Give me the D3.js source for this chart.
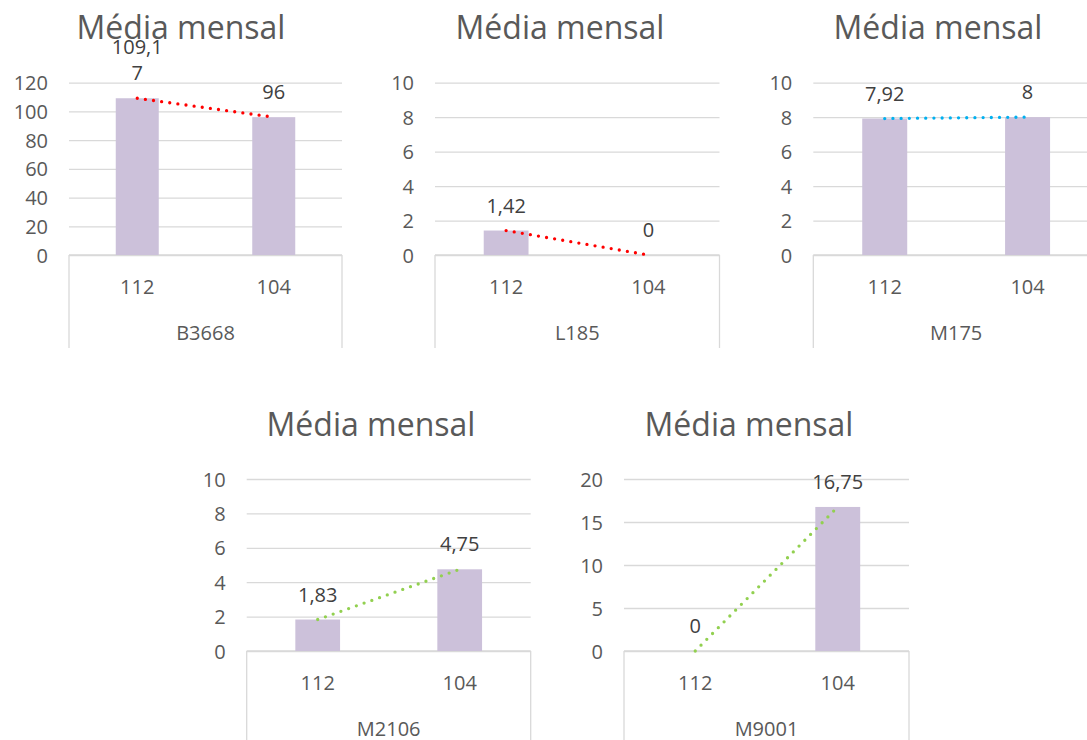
<!DOCTYPE html>
<html>
<head>
<meta charset="utf-8">
<script src="https://cdn.jsdelivr.net/npm/d3@7"></script>
<style>
  html, body { margin: 0; padding: 0; background: #ffffff; }
  svg { display: block; font-family: "Segoe UI", "Open Sans", "Noto Sans", sans-serif; }
</style>
</head>
<body>
<svg id="chart" width="1087" height="740"></svg>
<script>
// Monthly average per item, for the two centres (112 and 104)
const categories = ["112", "104"];
const items = ["B3668", "L185", "M175", "M2106", "M9001"];
const valuesB3668 = [109.17, 96];
const valuesL185 = [1.42, 0];
const valuesM175 = [7.92, 8];
const valuesM2106 = [1.83, 4.75];
const valuesM9001 = [0, 16.75];
const axisMax = [120, 10, 10, 10, 20];
const axisStep = [20, 2, 2, 2, 5];
const chartTitle = "Média mensal";

const seriesByItem = [valuesB3668, valuesL185, valuesM175, valuesM2106, valuesM9001];
const trendColors = ["#FF0000", "#FF0000", "#00B0F0", "#92D050", "#92D050"];

// Plot frame of each small chart (left, right, top gridline, baseline) and title centre
const frames = [
  { x0: 69,    x1: 342,  top: 82.7, base: 255, titleX: 181, titleY: 39 },
  { x0: 435,   x1: 719.5, top: 82.7, base: 255, titleX: 560, titleY: 39 },
  { x0: 813.3, x1: 1099, top: 82.7, base: 255, titleX: 938, titleY: 39 },
  { x0: 246.7, x1: 530.7, top: 479, base: 651, titleX: 371, titleY: 436 },
  { x0: 624,   x1: 909,  top: 479, base: 651, titleX: 749, titleY: 436 }
];

const ptBR = d3.formatLocale({ decimal: ",", thousands: ".", grouping: [3], currency: ["R$", ""] });
const fmt = v => ptBR.format(",")(+v.toFixed(2));

const svg = d3.select("#chart");
const gridColor = "#D9D9D9";
const textColor = "#595959";
const labelColor = "#404040";
const barColor = "#CCC1DA";

function linearTrend(vals) {
  const n = vals.length;
  const xs = d3.range(1, n + 1);
  const mx = d3.mean(xs), my = d3.mean(vals);
  const sxy = d3.sum(xs, (x, i) => (x - mx) * (vals[i] - my));
  const sxx = d3.sum(xs, x => (x - mx) * (x - mx));
  const slope = sxy / sxx;
  return xs.map(x => my + slope * (x - mx));
}

items.forEach((item, k) => {
  const f = frames[k];
  const vals = seriesByItem[k];
  const g = svg.append("g");

  const x = d3.scaleBand().domain(categories).range([f.x0, f.x1])
    .paddingInner(0.685).paddingOuter(0.3425);
  const y = d3.scaleLinear().domain([0, axisMax[k]]).range([f.base, f.top]);
  const ticks = d3.range(0, axisMax[k] + axisStep[k] / 2, axisStep[k]);

  // gridlines and value axis labels
  const yAxis = d3.axisLeft(y).tickValues(ticks).tickSize(-(f.x1 - f.x0)).tickPadding(0).tickFormat(d3.format("d"));
  const ya = g.append("g").attr("transform", `translate(${f.x0},0)`).call(yAxis);
  ya.select(".domain").remove();
  ya.selectAll(".tick line").attr("stroke", gridColor).attr("stroke-width", 1.3);
  ya.selectAll(".tick text")
    .attr("x", -21).attr("dy", "0.35em")
    .attr("fill", textColor).attr("font-size", 20)
    .attr("font-family", "'Segoe UI', 'Open Sans', sans-serif");

  // multi-level category axis frame
  const boxH = 93;
  g.append("line").attr("x1", f.x0).attr("x2", f.x1).attr("y1", f.base).attr("y2", f.base)
    .attr("stroke", gridColor).attr("stroke-width", 1.3);
  [f.x0, f.x1].forEach(xx => {
    g.append("line").attr("x1", xx).attr("x2", xx).attr("y1", f.base).attr("y2", f.base + boxH)
      .attr("stroke", gridColor).attr("stroke-width", 1.3);
  });

  // bars
  g.selectAll("rect.bar").data(vals).join("rect").attr("class", "bar")
    .attr("x", (d, i) => x(categories[i]))
    .attr("width", x.bandwidth())
    .attr("y", d => y(d))
    .attr("height", d => f.base - y(d))
    .attr("fill", barColor);

  // linear trendline (dotted)
  const trend = linearTrend(vals);
  const line = d3.line()
    .x((d, i) => x(categories[i]) + x.bandwidth() / 2)
    .y(d => y(d));
  g.append("path").datum(trend).attr("d", line)
    .attr("fill", "none").attr("stroke", trendColors[k])
    .attr("stroke-width", 3.3).attr("stroke-linecap", "round")
    .attr("stroke-dasharray", "0 8.2");

  // category labels and item label
  categories.forEach(c => {
    g.append("text").attr("x", x(c) + x.bandwidth() / 2).attr("y", f.base + 32)
      .attr("dy", "0.35em").attr("text-anchor", "middle")
      .attr("fill", textColor).attr("font-size", 20).text(c);
  });
  g.append("text").attr("x", (f.x0 + f.x1) / 2).attr("y", f.base + 78)
    .attr("dy", "0.35em").attr("text-anchor", "middle")
    .attr("fill", textColor).attr("font-size", 20).text(item);

  // data labels, wrapped when wider than the label box
  vals.forEach((v, i) => {
    const cx = x(categories[i]) + x.bandwidth() / 2;
    const t = g.append("text").attr("text-anchor", "middle")
      .attr("fill", labelColor).attr("font-size", 20);
    const str = fmt(v);
    t.text(str);
    const maxW = 54;
    let lines = [str];
    if (t.node().getComputedTextLength() > maxW) {
      let cut = str.length - 1;
      t.text(str.slice(0, cut));
      while (cut > 1 && t.node().getComputedTextLength() > maxW) { cut--; t.text(str.slice(0, cut)); }
      lines = [str.slice(0, cut), str.slice(cut)];
    }
    t.text(null);
    const lh = 26;
    const lastY = y(v) - 25;
    lines.forEach((ln, j) => {
      t.append("tspan").attr("x", cx)
        .attr("y", lastY - (lines.length - 1 - j) * lh)
        .attr("dy", "0.35em").text(ln);
    });
  });

  // chart title
  g.append("text").attr("x", f.titleX).attr("y", f.titleY)
    .attr("text-anchor", "middle").attr("fill", textColor)
    .attr("font-size", 32).text(chartTitle);
});
</script>
</body>
</html>
